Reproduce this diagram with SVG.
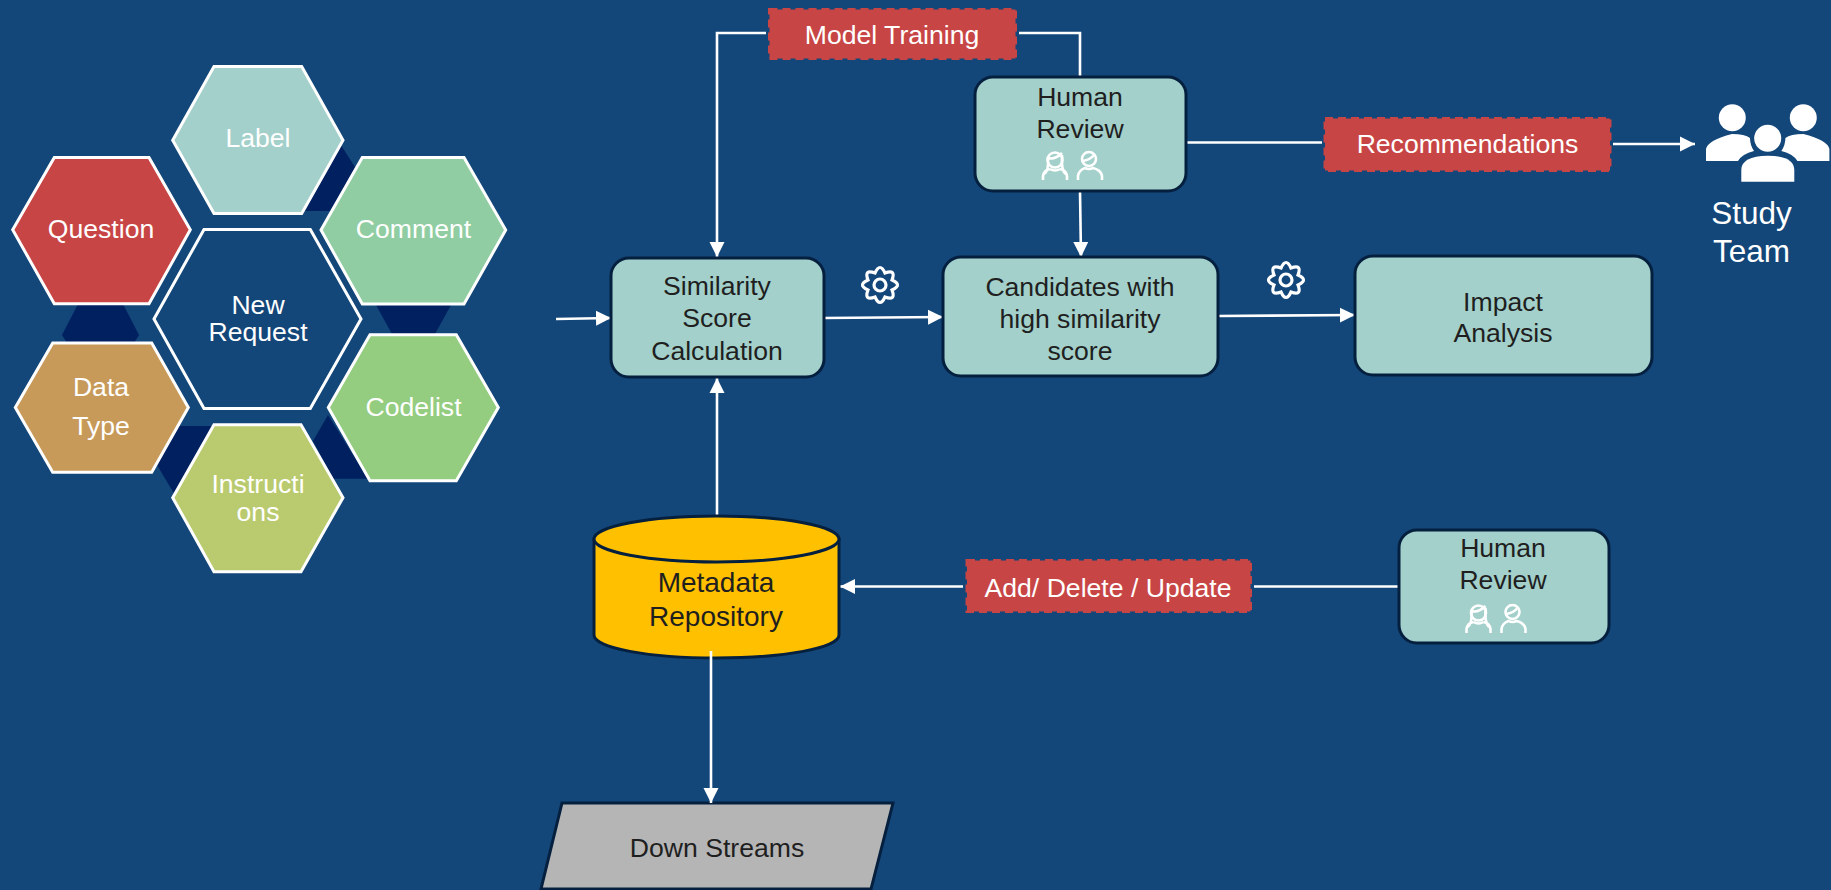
<svg xmlns="http://www.w3.org/2000/svg" width="1831" height="890" viewBox="0 0 1831 890">
<style>
text{font-family:"Liberation Sans",Arial,sans-serif;font-size:26.6px;text-anchor:middle}
.w{fill:#fff}.d{fill:#1f1f1f}
.hex{stroke:#fff;stroke-width:3}
.box{fill:#a3d0ca;stroke:#05203f;stroke-width:3}
.tag{fill:#c84545;stroke:#c84545;stroke-width:3;stroke-dasharray:8 5}
.c{fill:none;stroke:#fff;stroke-width:2.6}
.a{marker-end:url(#ah)}
.ic{fill:none;stroke:#fff;stroke-width:2.6}
.under{fill:#002060}
</style>
<defs>
<marker id="ah" markerUnits="userSpaceOnUse" markerWidth="16" markerHeight="16" refX="15" refY="8" orient="auto"><path d="M0 0.5L15 8L0 15.500Z" fill="#fff"/></marker>
<g id="gear" class="ic" style="stroke-width:3.200"><path d="M-4.970-12.010Q0-23 4.970-12.010Q16.260-16.260 12.010-4.970Q23 0 12.010 4.970Q16.260 16.260 4.970 12.010Q0 23-4.970 12.010Q-16.260 16.260-12.010 4.970Q-23 0-12.010-4.970Q-16.260-16.260-4.970-12.010Z"/><circle r="6"/></g>
<g id="people" class="ic">
<circle cx="1055" cy="160" r="7.500"/><path d="M1048 158Q1055 160 1062 153M1048 158Q1049 171 1044 174M1062 155Q1061 171 1066 174M1050 169Q1055 172 1060 169M1043 180V176Q1044 170 1050 169M1067 180V176Q1066 170 1060 169"/>
<circle cx="1089" cy="159" r="7"/><path d="M1083 161Q1090 160 1095 154M1078 180V176Q1079 170 1085 168Q1089 170 1093 168Q1101 170 1102 176V180"/>
</g>
</defs>
<rect width="1831" height="890" fill="#134679"/>
<g id="hex-links">
<polygon class="under" points="340.700,144.700 356,168.800 330,211 305,211"/>
<polygon class="under" points="376,305 451,305 435,334 392,334"/>
<polygon class="under" points="78,304 123,304 139,335 134,343 67,343 62,335"/>
<polygon class="under" points="178,426 213,426 174,493.500 157,465"/>
<polygon class="under" points="328,415 368,478.700 333,478.700 313,441"/>
</g>
<g id="connectors">
<path class="c a" d="M556 319L611 318"/>
<path class="c a" d="M824 318L943 317"/>
<path class="c a" d="M1218 316L1355 315"/>
<path class="c a" d="M1080 191L1081 257"/>
<path class="c a" d="M766 33H717V257"/>
<path class="c" d="M1019 33H1080V77"/>
<path class="c" d="M1186 142.500H1322"/>
<path class="c a" d="M1613 144H1695"/>
<path class="c a" d="M717 516V378"/>
<path class="c" d="M1399 586.500H1254"/>
<path class="c a" d="M963 586.500H840"/>
</g>
<g id="label"><polygon class="hex" fill="#a3d0ca" points="172.700,140.200 214,66.500 301.700,66.500 343,140.200 301.700,213.600 214,213.600"/><text class="w" x="258" y="147">Label</text></g>
<g id="comment"><polygon class="hex" fill="#90cda2" points="321,230 362.300,157.400 464,157.400 505.700,230 464,304 362.300,304"/><text class="w" x="413.500" y="238">Comment</text></g>
<g id="question"><polygon class="hex" fill="#c84545" points="12.700,229.800 54.300,157.400 149,157.400 190.300,229.800 149,303.800 54.300,303.800"/><text class="w" x="101" y="238">Question</text></g>
<g id="new-request"><polygon class="hex" fill="#134679" points="154,319 204,229.400 310.300,229.400 361,319 310.300,408.500 204,408.500"/><text class="w" x="258" y="314">New</text><text class="w" x="258" y="341">Request</text></g>
<g id="codelist"><polygon class="hex" fill="#94cc80" points="328.300,407.400 370,334.800 456.300,334.800 498.300,407.400 456.300,480.800 370,480.800"/><text class="w" x="413.500" y="416">Codelist</text></g>
<g id="data-type"><polygon class="hex" fill="#c79a5a" points="15.300,407.400 52.700,343 151.700,343 188.300,407.400 151.700,472.200 52.700,472.200"/><text class="w" x="101" y="396">Data</text><text class="w" x="101" y="435">Type</text></g>
<g id="instructions"><polygon class="hex" fill="#baca6e" points="172.700,497.700 214,424.700 301,424.700 343,497.700 301,571.700 214,571.700"/><text class="w" x="258" y="493">Instructi</text><text class="w" x="258" y="521">ons</text></g>
<g id="similarity"><rect class="box" x="611" y="258" width="213" height="119" rx="18"/><text class="d" x="717" y="295">Similarity</text><text class="d" x="717" y="327">Score</text><text class="d" x="717" y="360">Calculation</text></g>
<g id="candidates"><rect class="box" x="943" y="257" width="275" height="119" rx="18"/><text class="d" x="1080" y="296">Candidates with</text><text class="d" x="1080" y="328">high similarity</text><text class="d" x="1080" y="360">score</text></g>
<g id="impact"><rect class="box" x="1355" y="256" width="297" height="119" rx="18"/><text class="d" x="1503" y="311">Impact</text><text class="d" x="1503" y="342">Analysis</text></g>
<g id="review-top"><rect class="box" x="975" y="77" width="211" height="114" rx="18"/><text class="d" x="1080" y="106">Human</text><text class="d" x="1080" y="138">Review</text><use href="#people"/></g>
<g id="review-bottom"><rect class="box" x="1399" y="530" width="210" height="113" rx="18"/><text class="d" x="1503" y="557">Human</text><text class="d" x="1503" y="589">Review</text><use href="#people" x="423.500" y="453"/></g>
<g id="model-training"><rect class="tag" x="769.500" y="9.500" width="246" height="49"/><text class="w" x="892" y="44">Model Training</text></g>
<g id="recommendations"><rect class="tag" x="1325" y="118.500" width="285" height="52"/><text class="w" x="1467.500" y="153">Recommendations</text></g>
<g id="add-delete"><rect class="tag" x="967" y="560.500" width="283.500" height="51"/><text class="w" x="1108" y="597">Add/ Delete / Update</text></g>
<g id="repository"><path d="M594 539V635C594 648 649 658 716.500 658S839 648 839 635V539Z" fill="#ffc000" stroke="#05203f" stroke-width="3"/><ellipse cx="716.500" cy="539" rx="122.500" ry="23" fill="#ffc000" stroke="#05203f" stroke-width="3"/><text class="d" style="font-size:28px" x="716" y="592">Metadata</text><text class="d" style="font-size:28px" x="716" y="626">Repository</text></g>
<g id="down-streams"><polygon points="562,803 893,803 871,889 541,889" fill="#b5b5b5" stroke="#05203f" stroke-width="3"/><text class="d" x="717" y="857">Down Streams</text></g>
<path class="c a" d="M711 651V803"/>
<use href="#gear" x="880" y="285"/>
<use href="#gear" x="1286" y="280"/>
<g id="study-team"><g fill="#fff"><circle cx="1732.300" cy="117.700" r="13.500"/><circle cx="1803.300" cy="117.700" r="13.500"/><circle cx="1767.700" cy="138.300" r="13.500"/><path d="M1706 161V149Q1708 140 1732 134Q1745 134 1750 138Q1750 145 1754 151Q1742 154 1738 161Z"/><path d="M1829.400 161V149Q1827.400 140 1803.400 134Q1790.400 134 1785.400 138Q1785.400 145 1781.400 151Q1793.400 154 1797.400 161Z"/><path d="M1741.300 181.700V170Q1741.300 156 1767.800 155.700Q1794.300 156 1794.300 170V181.700Z"/></g><text class="w" style="font-size:31.500px" x="1751.500" y="223.500">Study</text><text class="w" style="font-size:31.500px" x="1751.500" y="262">Team</text></g>
</svg>
